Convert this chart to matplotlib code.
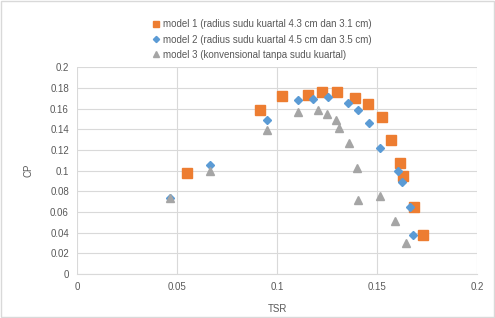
import matplotlib.pyplot as plt
from matplotlib.patches import Rectangle

# model 1 (orange squares)
tsr1 = [0.055, 0.0915, 0.1025, 0.1155, 0.1225, 0.130, 0.139, 0.1455, 0.1525, 0.157, 0.1615, 0.163, 0.1685, 0.173]
cp1 = [0.0975, 0.159, 0.172, 0.173, 0.176, 0.176, 0.170, 0.164, 0.1515, 0.130, 0.107, 0.0945, 0.065, 0.0376]

# model 2 (blue diamonds)
tsr2 = [0.0465, 0.0665, 0.095, 0.1105, 0.118, 0.1255, 0.1355, 0.1405, 0.146, 0.1515, 0.1605, 0.1625, 0.1665, 0.168]
cp2 = [0.074, 0.105, 0.149, 0.168, 0.169, 0.171, 0.165, 0.159, 0.146, 0.122, 0.100, 0.089, 0.065, 0.0376]

# model 3 (grey triangles)
tsr3 = [0.0465, 0.0665, 0.095, 0.1105, 0.1205, 0.125, 0.1295, 0.131, 0.136, 0.140, 0.1405, 0.1515, 0.159, 0.1645]
cp3 = [0.074, 0.100, 0.139, 0.157, 0.159, 0.155, 0.149, 0.141, 0.127, 0.103, 0.072, 0.075, 0.051, 0.030]

labels = ['model 1 (radius sudu kuartal 4.3 cm dan 3.1 cm)',
          'model 2 (radius sudu kuartal 4.5 cm dan 3.5 cm)',
          'model 3 (konvensional tanpa sudu kuartal)']

txt = '#595959'
plt.rcParams['font.family'] = ['Liberation Sans', 'DejaVu Sans']

fig = plt.figure(figsize=(4.95, 3.18), dpi=100)
ax = fig.add_axes([0.156, 0.138, 0.808, 0.651])

ax.plot(tsr1, cp1, 's', color='#ED7D31', ms=6.5, label=labels[0], zorder=3)
ax.plot(tsr2, cp2, 'D', color='#5B9BD5', ms=4.5, label=labels[1], zorder=4)
ax.plot(tsr3, cp3, '^', color='#A5A5A5', ms=5.5, label=labels[2], zorder=5)

ax.set_xlim(0, 0.2)
ax.set_ylim(0, 0.2)
ax.set_xticks([0, 0.05, 0.1, 0.15, 0.2])
ax.set_xticklabels(['0', '0.05', '0.1', '0.15', '0.2'])
ax.set_yticks([i * 0.02 for i in range(11)])
ax.set_yticklabels(['0', '0.02', '0.04', '0.06', '0.08', '0.1', '0.12', '0.14', '0.16', '0.18', '0.2'])
ax.grid(True, color='#D9D9D9', lw=0.8)
ax.set_axisbelow(True)
for s in ['top', 'right', 'left']:
    ax.spines[s].set_visible(False)
ax.spines['bottom'].set_color('#D9D9D9')
ax.tick_params(length=0, labelsize=7, colors=txt, pad=6)
ax.set_xlabel('TSR', fontsize=7, color=txt, labelpad=8)
ax.set_ylabel('CP', fontsize=7, color=txt, labelpad=12)

fig.legend(loc='upper left', bbox_to_anchor=(0.298, 0.955), frameon=False,
           fontsize=7, labelcolor=txt, handlelength=0.7, handletextpad=0.4,
           labelspacing=0.55, borderpad=0, markerscale=0.7)

fig.patches.append(Rectangle((0.002, 0.003), 0.996, 0.994, transform=fig.transFigure,
                             fill=False, edgecolor='#D9D9D9', lw=1))

fig.savefig('out.png', dpi=100)
